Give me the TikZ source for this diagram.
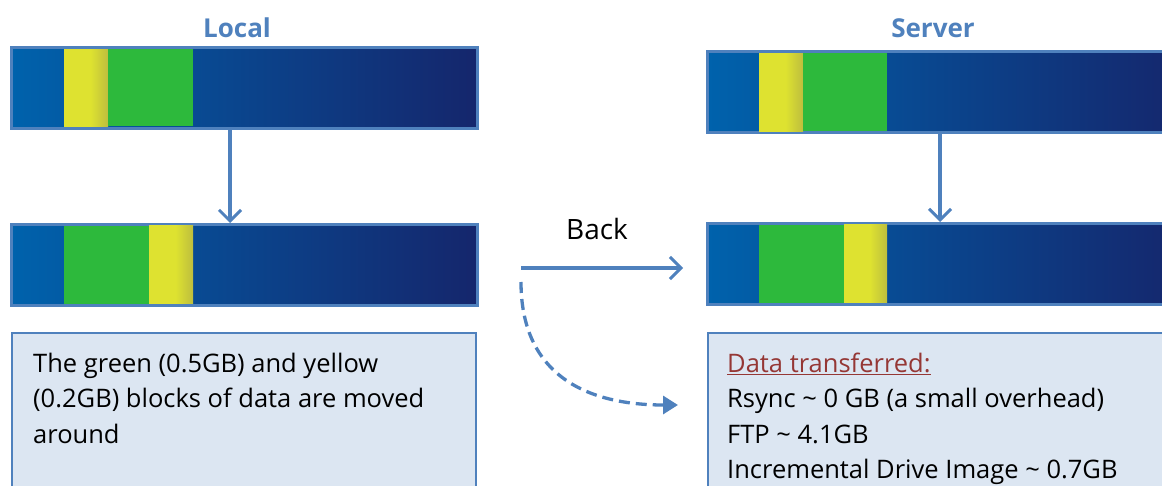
\documentclass[tikz,border=0pt]{standalone}
\usepackage{fontspec}
\setmainfont{Open Sans}
\usetikzlibrary{arrows.meta,calc}
\definecolor{frame}{HTML}{4F81BD}
\definecolor{boxfill}{HTML}{DCE6F2}
\definecolor{barA}{HTML}{0062AC}
\definecolor{barB}{HTML}{00519C}
\definecolor{barC}{HTML}{15266C}
\definecolor{ylw}{HTML}{DEE230}
\definecolor{ylwdark}{HTML}{BDBE3E}
\definecolor{grn}{HTML}{2DB93C}
\definecolor{linkred}{HTML}{953735}
% yellow block: flat, darkening only near its right edge
\pgfdeclarehorizontalshading{ylwshade}{100bp}{color(0bp)=(ylw); color(25bp)=(ylw);
  color(55bp)=(ylw); color(75bp)=(ylwdark); color(100bp)=(ylwdark)}
\begin{document}
\begin{tikzpicture}[x=1pt,y=-1pt,
  disk/.style={draw=frame, line width=3pt, left color=barA, middle color=barB,
    right color=barC, minimum height=81pt, inner sep=0pt},
  title/.style={font=\fontsize{26}{30}\selectfont\bfseries, text=frame},
  note/.style={draw=frame, line width=2pt, fill=boxfill, inner sep=0pt},
  line/.style={font=\fontsize{25.5}{30}\selectfont, anchor=base west, inner sep=0pt},
  link/.style={draw=frame, line width=3.3pt},
  openhead/.style={-{Straight Barb[length=11pt,width=22pt,line width=3pt]}},
  ylwblk/.style={shading=ylwshade},
  grnblk/.style={fill=grn}
]
\useasboundingbox (0,0) rectangle (1162,486);
\clip (0,0) rectangle (1162,486);

% titles
\node[title] (tl) at (237,28) {Local};
\node[title] (ts) at (933,28) {Server};

% disk bars
\node[disk, minimum width=466pt] (lt) at (244.5,88) {};
\node[disk, minimum width=466pt] (lb) at (244.5,265) {};
\node[disk, minimum width=480pt] (st) at (947.5,92.5) {};
\node[disk, minimum width=480pt] (sb) at (947.5,264) {};

% local, before: yellow then green
\shade[ylwblk] (64,49.5) rectangle (108,126.5);
\fill[grnblk] (108,49.5) rectangle (193,126.5);
% local, after: green then yellow
\fill[grnblk] (64,226) rectangle (149,304);
\shade[ylwblk] (149,226) rectangle (193,304);
% server, before
\shade[ylwblk] (759,53.5) rectangle (803,131.5);
\fill[grnblk] (803,53.5) rectangle (887,131.5);
% server, after
\fill[grnblk] (759,225) rectangle (844,303);
\shade[ylwblk] (844,225) rectangle (887,303);

% vertical arrows
\coordinate (lx) at (230,0);
\coordinate (sx) at (940,0);
\draw[link, openhead] (lt.south -| lx) -- (lb.north -| lx);
\draw[link, openhead] (st.south -| sx) -- (sb.north -| sx);

% back transfer
\node[font=\fontsize{28}{30}\selectfont] (back) at (597,229) {Back};
\coordinate (bstart) at (521,268);
\coordinate (dstart) at (521,282);
\draw[link, openhead, shorten >=23pt] (bstart) -- (bstart -| sb.west);

% notes
\node[note, minimum width=464pt, minimum height=190pt] (ln) at (244,428) {};
\node[note, minimum width=490pt, minimum height=190pt] (rn) at (953,428) {};

\draw[link, dash pattern=on 11pt off 6pt, -{Triangle[length=15pt,width=18pt]}]
  (dstart) .. controls (521,370) and (580,405) .. ($(rn.west |- 0,405)+(-29,0)$);

\node[line] (l1) at (33,372) {The green (0.5GB) and yellow};
\node[line] (l2) at (33,407.5) {(0.2GB) blocks of data are moved};
\node[line] (l3) at (33,443) {around};

\node[line, text=linkred] (r0) at (727,372) {\underline{Data transferred:}};
\node[line] (r1) at (727,407.5) {Rsync \textasciitilde{} 0 GB (a small overhead)};
\node[line] (r2) at (727,443) {FTP \textasciitilde{} 4.1GB};
\node[line] (r3) at (727,478.5) {Incremental Drive Image \textasciitilde{} 0.7GB};
\end{tikzpicture}
\end{document}
